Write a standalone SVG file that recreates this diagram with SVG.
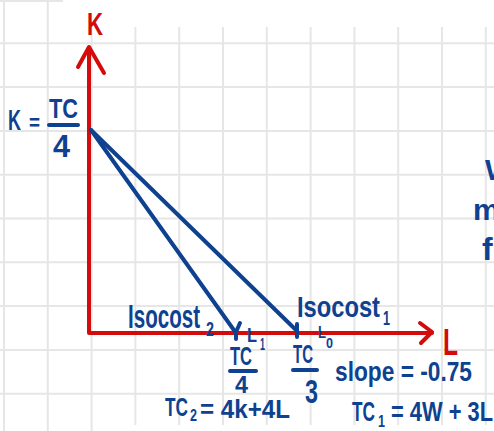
<svg xmlns="http://www.w3.org/2000/svg" width="494" height="431" viewBox="0 0 494 431">
<style>
.grid{stroke:#e6e6e6;stroke-width:2;fill:none}
.ax{stroke:#d40b0b;stroke-width:4;fill:none;stroke-linecap:round;stroke-linejoin:round}
.bl{stroke:#0e4290;stroke-width:4;fill:none;stroke-linecap:round;stroke-linejoin:round}
.t{font-family:"Liberation Sans",Arial,sans-serif;font-weight:bold;fill:#0e4290}
.r{font-family:"Liberation Sans",Arial,sans-serif;font-weight:bold;fill:#d40b0b}
</style>
<rect width="494" height="431" fill="#ffffff"/>
<g id="grid" class="grid">
<path d="M4 0V431M47.8 0V431M91.6 27V431M135.4 27V425M179.2 27V425M223 27V425M266.8 27V425M310.6 27V425M354.4 27V425M398.2 27V425M442 27V425M485.8 27V425"/>
<path d="M0 1H63M0 43.3H494M0 87.1H494M0 130.9H494M0 174.7H494M0 218.5H494M0 262.3H494M0 306.1H494M0 349.9H494M0 393.7H494"/>
</g>
<g id="axes">
<path class="ax" d="M89 333V48M89 333H432"/>
<path class="ax" d="M78 67L89 47L104 73"/>
<path class="ax" d="M420 323L432 332L421 343"/>
<text class="r" x="87" y="35" font-size="32" textLength="16" lengthAdjust="spacingAndGlyphs">K</text>
<text class="r" x="443" y="355" font-size="36" textLength="15" lengthAdjust="spacingAndGlyphs">L</text>
</g>
<g id="connectors">
<path class="bl" d="M91 130L236 333"/>
<path class="bl" d="M91 130L296 330"/>
<path class="bl" d="M240 323L236 332V339"/>
<path class="bl" d="M297 324V337"/>
</g>
<g id="k-intercept">
<text class="t" x="8" y="130" font-size="30" textLength="13" lengthAdjust="spacingAndGlyphs">K</text>
<text class="t" x="29" y="130" font-size="22" textLength="11" lengthAdjust="spacingAndGlyphs">=</text>
<text class="t" x="49" y="118" font-size="28" textLength="29" lengthAdjust="spacingAndGlyphs">TC</text>
<path class="bl" d="M49 125H78"/>
<text class="t" x="53" y="157" font-size="32" textLength="17" lengthAdjust="spacingAndGlyphs">4</text>
</g>
<g id="isocost2">
<text class="t" x="128" y="328" font-size="34" textLength="72" lengthAdjust="spacingAndGlyphs">Isocost</text>
<text class="t" x="206" y="336" font-size="20" textLength="8" lengthAdjust="spacingAndGlyphs">2</text>
<text class="t" x="247" y="342" font-size="21" textLength="10" lengthAdjust="spacingAndGlyphs">L</text>
<text class="t" x="260" y="350" font-size="16" textLength="5" lengthAdjust="spacingAndGlyphs">1</text>
<text class="t" x="230" y="365" font-size="26" textLength="22" lengthAdjust="spacingAndGlyphs">TC</text>
<path class="bl" d="M230 371H256"/>
<text class="t" x="235" y="393" font-size="24" textLength="13" lengthAdjust="spacingAndGlyphs">4</text>
<text class="t" x="165" y="416" font-size="26" textLength="23" lengthAdjust="spacingAndGlyphs">TC</text>
<text class="t" x="190" y="421" font-size="16" textLength="7" lengthAdjust="spacingAndGlyphs">2</text>
<text class="t" x="200" y="418" font-size="26" textLength="90" lengthAdjust="spacingAndGlyphs">= 4k+4L</text>
</g>
<g id="isocost1">
<text class="t" x="297" y="317" font-size="30" textLength="83" lengthAdjust="spacingAndGlyphs">Isocost</text>
<text class="t" x="383" y="325" font-size="20" textLength="7" lengthAdjust="spacingAndGlyphs">1</text>
<text class="t" x="318" y="338" font-size="16" textLength="8" lengthAdjust="spacingAndGlyphs">L</text>
<text class="t" x="326" y="348" font-size="14" textLength="7" lengthAdjust="spacingAndGlyphs">0</text>
<text class="t" x="293" y="363" font-size="26" textLength="20" lengthAdjust="spacingAndGlyphs">TC</text>
<path class="bl" d="M293 370H317"/>
<text class="t" x="305" y="403" font-size="34" textLength="13" lengthAdjust="spacingAndGlyphs">3</text>
<text class="t" x="335" y="381" font-size="28" textLength="137" lengthAdjust="spacingAndGlyphs">slope = -0.75</text>
<text class="t" x="352" y="421" font-size="28" textLength="23" lengthAdjust="spacingAndGlyphs">TC</text>
<text class="t" x="378" y="427" font-size="17" textLength="7" lengthAdjust="spacingAndGlyphs">1</text>
<text class="t" x="391" y="421" font-size="28" textLength="102" lengthAdjust="spacingAndGlyphs">= 4W + 3L</text>
</g>
<g id="edge-text">
<text class="t" x="485" y="180" font-size="30">W</text>
<text class="t" x="473" y="220" font-size="30">m</text>
<text class="t" x="482" y="260" font-size="32">f</text>
</g>
</svg>
